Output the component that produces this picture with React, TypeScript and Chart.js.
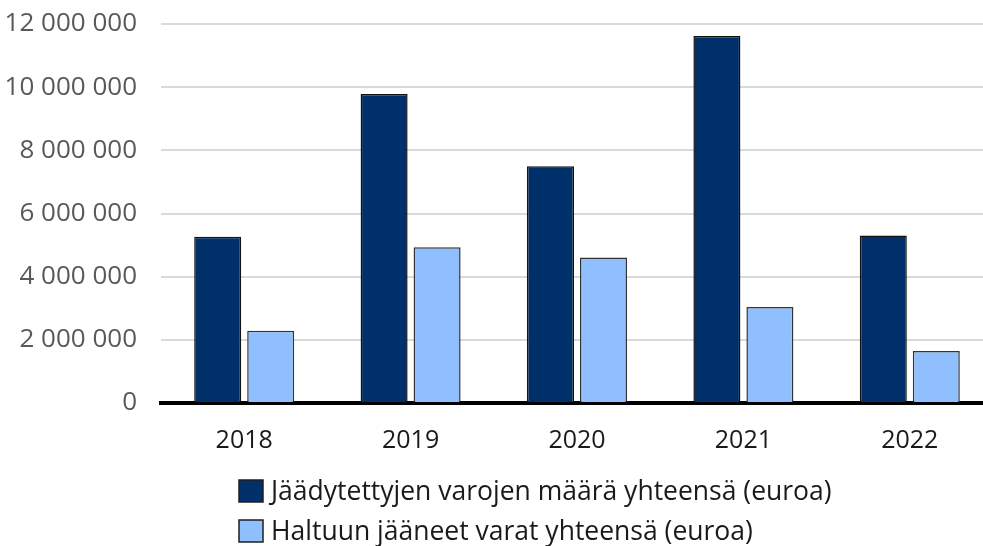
import React, { useEffect, useRef } from "react";
import { Chart, registerables } from "chart.js";

Chart.register(...registerables);

const years = ["2018", "2019", "2020", "2021", "2022"];
const frozenTotal = [5260000, 9780000, 7500000, 11620000, 5300000];
const seizedTotal = [2290000, 4930000, 4610000, 3040000, 1650000];
const seriesLabels = [
  "Jäädytettyjen varojen määrä yhteensä (euroa)",
  "Haltuun jääneet varat yhteensä (euroa)",
];
const seriesColors = ["#00306A", "#8FBFFF"];
const FONT = "'Open Sans', 'Noto Sans', sans-serif";

const fmt = (v: number) =>
  String(Math.round(v)).replace(/\B(?=(\d{3})+(?!\d))/g, " ");

const legendPlugin = {
  id: "customLegend",
  afterDraw(chart: any) {
    const { ctx, chartArea } = chart;
    const x0 = chartArea.left + 78;
    const rowsY = [chartArea.bottom + 88, chartArea.bottom + 128];
    ctx.save();
    chart.data.datasets.forEach((ds: any, i: number) => {
      const cy = rowsY[i];
      ctx.fillStyle = ds.backgroundColor;
      ctx.fillRect(x0, cy - 11, 24, 22);
      ctx.lineWidth = 1.5;
      ctx.strokeStyle = "#1f1f1f";
      ctx.strokeRect(x0, cy - 11, 24, 22);
      ctx.fillStyle = "#1a1a1a";
      ctx.font = `26.5px ${FONT}`;
      ctx.textBaseline = "middle";
      ctx.textAlign = "left";
      ctx.fillText(ds.label, x0 + 32, cy + 1.5);
    });
    ctx.restore();
  },
};

export default function App() {
  const ref = useRef<HTMLCanvasElement | null>(null);
  useEffect(() => {
    if (!ref.current) return;
    const chart = new Chart(ref.current, {
      type: "bar",
      data: {
        labels: years,
        datasets: [
          {
            label: seriesLabels[0],
            data: frozenTotal,
            backgroundColor: seriesColors[0],
            borderColor: "#111111",
            borderWidth: 1.5,
          },
          {
            label: seriesLabels[1],
            data: seizedTotal,
            backgroundColor: seriesColors[1],
            borderColor: "#333333",
            borderWidth: 1.5,
          },
        ],
      },
      options: {
        responsive: false,
        animation: false,
        devicePixelRatio: 1,
        layout: { padding: { top: 24, bottom: 90, left: 0, right: 0 } },
        datasets: {
          bar: { categoryPercentage: 0.637, barPercentage: 0.887 },
        },
        plugins: {
          legend: { display: false },
          tooltip: { enabled: false },
        },
        scales: {
          x: {
            z: 1,
            grid: { display: false, drawTicks: false },
            border: { display: true, color: "#000000", width: 4 },
            ticks: {
              color: "#1a1a1a",
              font: { family: FONT, size: 25 },
              padding: 23,
            },
            afterFit: (s: any) => {
              s.height = 53;
              s.paddingLeft = 0;
              s.paddingRight = 0;
            },
          },
          y: {
            min: 0,
            max: 12000000,
            ticks: {
              stepSize: 2000000,
              color: "#595959",
              font: { family: FONT, size: 26 },
              padding: 24,
              callback: (v: any) => fmt(Number(v)),
            },
            grid: {
              drawTicks: false,
              lineWidth: 2,
              color: (c: any) =>
                c.tick && c.tick.value === 0 ? "rgba(0,0,0,0)" : "#dadada",
            },
            border: { display: false },
            afterFit: (s: any) => {
              s.width = 161;
              s.paddingTop = 0;
              s.paddingBottom = 0;
            },
          },
        },
      },
      plugins: [legendPlugin],
    });
    return () => chart.destroy();
  }, []);
  return (
    <div
      style={{
        position: "fixed",
        left: 0,
        top: 0,
        width: 983,
        height: 546,
        overflow: "hidden",
        background: "#ffffff",
      }}
    >
      <canvas ref={ref} width={993} height={546} style={{ display: "block" }} />
    </div>
  );
}
